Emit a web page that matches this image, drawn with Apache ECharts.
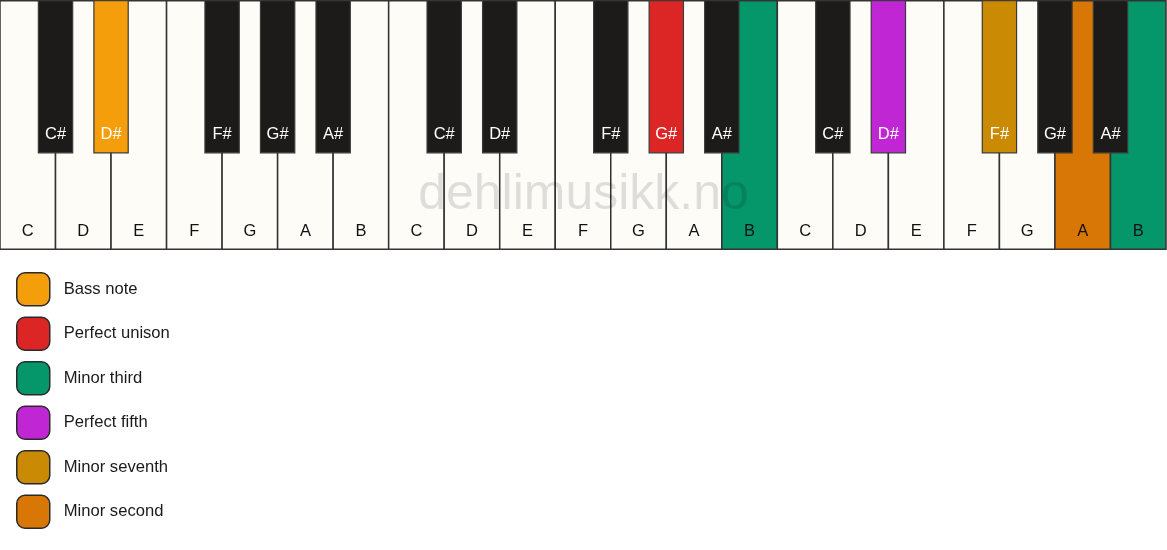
<!DOCTYPE html>
<html>
<head>
<meta charset="utf-8">
<script src="https://cdn.jsdelivr.net/npm/echarts@6/dist/echarts.min.js"></script>
<style>
html,body{margin:0;padding:0;background:#ffffff;}
#chart{width:1167px;height:550px;}
</style>
</head>
<body>
<div id="chart"></div>
<script>
// ---- data ----
const whiteNotes = ['C','D','E','F','G','A','B','C','D','E','F','G','A','B','C','D','E','F','G','A','B'];
const whiteIntervals = [null,null,null,null,null,null,null,null,null,null,null,null,null,'Minor third',null,null,null,null,null,'Minor second','Minor third'];
const blackNotes = ['C#','D#','F#','G#','A#','C#','D#','F#','G#','A#','C#','D#','F#','G#','A#'];
const blackPositions = [1,2,4,5,6,8,9,11,12,13,15,16,18,19,20];
const blackIntervals = [null,'Bass note',null,null,null,null,null,null,'Perfect unison',null,null,'Perfect fifth','Minor seventh',null,null];
const intervalNames = ['Bass note','Perfect unison','Minor third','Perfect fifth','Minor seventh','Minor second'];
const intervalColors = ['#f59e0b','#dc2626','#059669','#c026d3','#ca8a04','#d97706'];
const watermark = 'dehlimusikk.no';

const colorOf = name => name ? intervalColors[intervalNames.indexOf(name)] : null;
const FONT = '"Liberation Sans", Arial, sans-serif';

const whiteData = whiteNotes.map((n, i) => [i, n, whiteIntervals[i] || '']);
const blackData = blackNotes.map((n, i) => [blackPositions[i], n, blackIntervals[i] || '']);

const BLACK_HALF = 0.309;   // half width of black key in white-key units
const BLACK_BOTTOM = 0.388; // black key bottom in y units

const chart = echarts.init(document.getElementById('chart'), null, {renderer: 'canvas'});

const legendSeries = intervalNames.map((name, i) => ({
  name: name,
  type: 'scatter',
  data: [],
  itemStyle: {color: intervalColors[i], opacity: 1}
}));

chart.setOption({
  backgroundColor: '#ffffff',
  animation: false,
  grid: {left: 0, right: 1, top: 0.75, height: 248.5, containLabel: false},
  xAxis: {type: 'value', min: 0, max: 21, show: false},
  yAxis: {type: 'value', min: 0, max: 1, show: false},
  legend: {
    data: intervalNames,
    orient: 'vertical',
    left: 11,
    top: 267,
    itemWidth: 33,
    itemHeight: 33,
    itemGap: 10,
    icon: 'roundRect',
    selectedMode: false,
    itemStyle: {borderColor: '#2a2a2a', borderWidth: 1.5, opacity: 1},
    textStyle: {fontSize: 16.6, color: '#1a1a1a', fontFamily: FONT, padding: [1, 0, 0, 9]}
  },
  graphic: [{
    type: 'text',
    left: 'center',
    top: 170,
    z: 100,
    silent: true,
    style: {
      text: watermark,
      fontSize: 50,
      fontFamily: FONT,
      fill: 'rgba(0,0,0,0.12)'
    }
  }],
  series: [
    {
      type: 'custom',
      name: 'white',
      z: 1,
      data: whiteData,
      renderItem: function (params, api) {
        const i = api.value(0);
        const p0 = api.coord([i, 1]);
        const p1 = api.coord([i + 1, 0]);
        const iv = whiteData[params.dataIndex][2];
        const fill = colorOf(iv) || '#fdfcf7';
        return {
          type: 'group',
          children: [
            {type: 'rect', shape: {x: p0[0], y: p0[1], width: p1[0] - p0[0], height: p1[1] - p0[1]},
             style: {fill: fill, stroke: '#333333', lineWidth: 1.5}},
            {type: 'text', style: {text: whiteData[params.dataIndex][1], x: (p0[0] + p1[0]) / 2, y: p1[1] - 18,
             align: 'center', verticalAlign: 'middle', fontSize: 16.5, fontFamily: FONT, fill: '#111111'}}
          ]
        };
      }
    },
    {
      type: 'custom',
      name: 'black',
      z: 2,
      data: blackData,
      renderItem: function (params, api) {
        const c = api.value(0);
        const p0 = api.coord([c - BLACK_HALF, 1]);
        const p1 = api.coord([c + BLACK_HALF, BLACK_BOTTOM]);
        const iv = blackData[params.dataIndex][2];
        const fill = colorOf(iv) || '#1c1b1a';
        return {
          type: 'group',
          children: [
            {type: 'rect', shape: {x: p0[0], y: p0[1], width: p1[0] - p0[0], height: p1[1] - p0[1]},
             style: {fill: fill, stroke: '#3a3a3a', lineWidth: 1.2}},
            {type: 'text', style: {text: blackData[params.dataIndex][1], x: (p0[0] + p1[0]) / 2, y: p1[1] - 18,
             align: 'center', verticalAlign: 'middle', fontSize: 16.5, fontFamily: FONT, fill: '#ffffff'}}
          ]
        };
      }
    }
  ].concat(legendSeries)
});
</script>
</body>
</html>
